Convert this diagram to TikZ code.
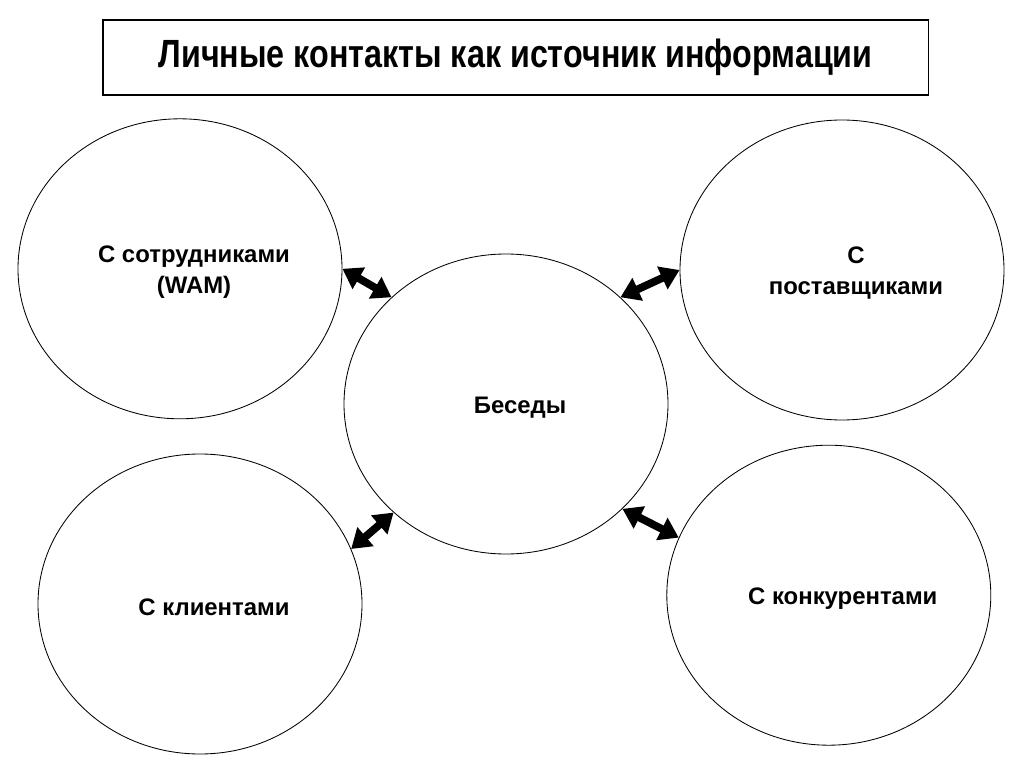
\documentclass[tikz,border=0pt]{standalone}
\usepackage{fontspec}
\setmainfont{Liberation Sans}
\newfontfamily\narrowsans[FakeStretch=0.82]{Liberation Sans}
\usepackage{tikz}
\usetikzlibrary{arrows.meta, positioning, shapes.geometric}
\tikzset{
  titlebox/.style={draw, line width=0.9pt, minimum width=20.63cm, minimum height=1.875cm,
                   font=\narrowsans\bfseries\fontsize{28}{30}\selectfont},
  bubble/.style={draw, ellipse, line width=0.6pt, minimum width=8.1cm, minimum height=7.5cm,
                 inner sep=0pt},
  txt/.style={font=\bfseries\fontsize{17}{22.5}\selectfont, align=center,
              xshift=0.35cm, yshift=-0.08cm},
  arr/.style={<->, >={Triangle[length=13.5pt, width=17pt]}, line width=5.5pt},
}
\begin{document}
\begin{tikzpicture}
  \useasboundingbox (0,0) rectangle (25.6,-19.2);

  \node[titlebox] (title) at (12.89,-1.44) {\raisebox{-0.1cm}{Личные контакты как источник информации}};

  \node[bubble, label={[txt]center:{С сотрудниками\\(WAM)}}] (sotr) at (4.5,-6.72) {};
  \node[bubble, label={[txt]center:{С\\поставщиками}}] (post) at (21.05,-6.75) {};
  \node[bubble, label={[txt]center:{Беседы}}] (bes) at (12.65,-10.1) {};
  \node[bubble, label={[txt]center:{С клиентами}}] (klient) at (5.0,-15.1) {};
  \node[bubble, label={[txt]center:{С конкурентами}}] (konk) at (20.72,-14.88) {};

  \draw[arr] (sotr.0) -- (bes.137);
  \draw[arr] (bes.43) -- (post.180);
  \draw[arr] (klient.20) -- (bes.224);
  \draw[arr] (bes.-42) -- (konk.159);
\end{tikzpicture}
\end{document}
